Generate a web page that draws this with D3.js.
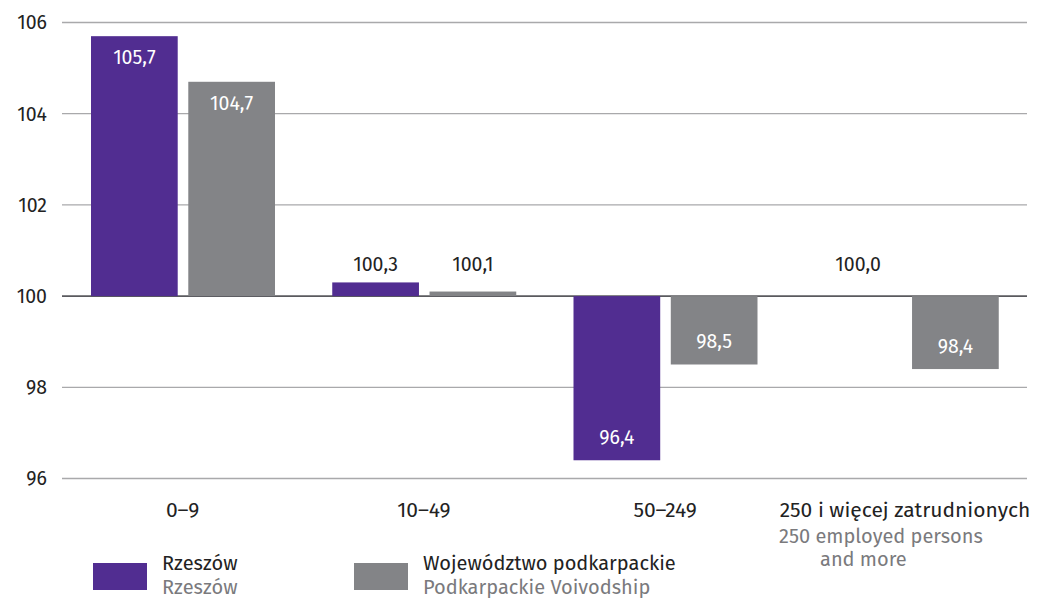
<!DOCTYPE html>
<html><head><meta charset="utf-8">
<script src="https://cdn.jsdelivr.net/npm/d3@7"></script>
<style>body{margin:0;background:#fff}svg{display:block}text{font-family:"Fira Sans","Noto Sans","Open Sans",sans-serif}</style>
</head><body><svg id="c" width="1037" height="599"></svg>
<script>
const categories = ["0–9", "10–49", "50–249", "250 i więcej zatrudnionych"];
const categoriesEn = ["", "", "", "250 employed persons|and more"];
const seriesNames = ["Rzeszów", "Województwo podkarpackie"];
const seriesNamesEn = ["Rzeszów", "Podkarpackie Voivodship"];
const rzeszow = [105.7, 100.3, 96.4, 100.0];
const podkarpackie = [104.7, 100.1, 98.5, 98.4];
const yTicks = [96, 98, 100, 102, 104, 106];
const colors = ["#512d91", "#838487"];

const svg = d3.select("#c");
const x = d3.scaleBand().domain(categories).range([62, 1027]).paddingInner(0).paddingOuter(0);
const y = d3.scaleLinear().domain([96, 106]).range([478.5, 22.5]);
const inner = d3.scaleBand().domain([0, 1]).range([29, 213]).paddingInner(10 / 184 * 2).paddingOuter(0);

svg.append("g").selectAll("line").data(yTicks).join("line")
  .attr("x1", 62).attr("x2", 1027)
  .attr("y1", d => y(d)).attr("y2", d => y(d))
  .attr("stroke", d => d === 100 ? "#5a5a5e" : "#a9a9ab").attr("stroke-width", d => d === 100 ? 1.6 : 1.3);

svg.append("g").selectAll("text").data(yTicks).join("text")
  .attr("x", 47).attr("y", d => y(d)).attr("dy", "0.35em")
  .attr("text-anchor", "end").attr("font-size", 19.5).attr("fill", "#222")
  .text(d => d);

const series = [rzeszow, podkarpackie];
const fmt = v => v.toFixed(1).replace(".", ",");
series.forEach((vals, si) => {
  const g = svg.append("g");
  vals.forEach((v, i) => {
    const bx = x(categories[i]) + inner(si);
    const w = inner.bandwidth();
    const top = y(Math.max(v, 100)), bot = y(Math.min(v, 100));
    if (v !== 100) {
      g.append("rect").attr("x", bx).attr("y", top).attr("width", w).attr("height", bot - top).attr("fill", colors[si]);
    }
    const big = Math.abs(v - 100) > 0.5;
    let ty, fill;
    if (!big) { ty = y(100) - 32; fill = "#222"; }
    else if (v > 100) { ty = top + 21; fill = "#fff"; }
    else { ty = bot - 23; fill = "#fff"; }
    g.append("text").attr("x", bx + w / 2).attr("y", ty).attr("dy", "0.35em")
      .attr("text-anchor", "middle").attr("font-size", 19.5).attr("fill", fill).text(fmt(v));
  });
});

categories.forEach((c, i) => {
  const cx = x(c) + x.bandwidth() / 2;
  svg.append("text").attr("x", i === 3 ? 905 : cx).attr("y", 517).attr("text-anchor", "middle")
    .attr("font-size", 21).attr("fill", "#222").text(c);
  if (categoriesEn[i]) {
    const lines = categoriesEn[i].split("|");
    const t = svg.append("text").attr("font-size", 20).attr("fill", "#7a7a7d");
    t.append("tspan").attr("x", 779).attr("y", 543).text(lines[0]);
    t.append("tspan").attr("x", 820).attr("y", 566).text(lines[1]);
  }
});

const lx = [93, 354];
seriesNames.forEach((n, i) => {
  svg.append("rect").attr("x", lx[i]).attr("y", 563).attr("width", 54).attr("height", 27).attr("fill", colors[i]);
  svg.append("text").attr("x", lx[i] + 69).attr("y", 570).attr("font-size", 20).attr("fill", "#222").text(n);
  svg.append("text").attr("x", lx[i] + 69).attr("y", 594).attr("font-size", 20).attr("fill", "#7a7a7d").text(seriesNamesEn[i]);
});
</script></body></html>
